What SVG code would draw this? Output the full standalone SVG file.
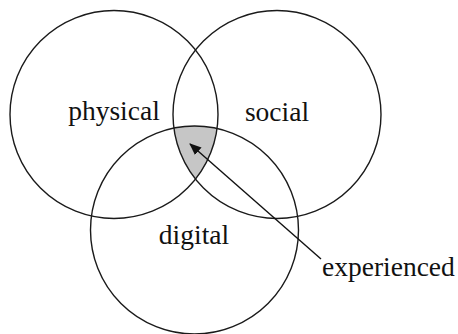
<svg xmlns="http://www.w3.org/2000/svg" width="458" height="334" viewBox="0 0 458 334">
<style>
.c{fill:none;stroke:#1a1a1a;stroke-width:1.4}
.t{font-family:"Liberation Serif","Times New Roman",serif;font-size:27.5px;fill:#111}
</style>
<defs>
<marker id="ah" viewBox="0 0 12 10" refX="11" refY="5" markerWidth="12" markerHeight="10" markerUnits="userSpaceOnUse" orient="auto">
<path d="M0,0 L12,5 L0,10 Z" fill="#111"/>
</marker>
</defs>
<rect width="458" height="334" fill="#fff"/>
<g id="experienced-region">
<path d="M173.9,128.1 A104,104 0 0 1 217.1,128.5 A104,104 0 0 1 195.5,179.1 A104,104 0 0 1 173.9,128.1 Z" fill="#c6c6c6"/>
</g>
<g id="physical">
<circle class="c" cx="114" cy="114.5" r="104"/>
<text class="t" x="114" y="120" text-anchor="middle">physical</text>
</g>
<g id="social">
<circle class="c" cx="277" cy="114.5" r="104"/>
<text class="t" x="277" y="121" text-anchor="middle">social</text>
</g>
<g id="digital">
<circle class="c" cx="194.5" cy="230" r="104"/>
<text class="t" x="194" y="244" text-anchor="middle">digital</text>
</g>
<g id="connectors">
<line x1="321" y1="259" x2="190" y2="144" stroke="#111" stroke-width="1.4" marker-end="url(#ah)"/>
</g>
<g id="experienced">
<text class="t" x="322" y="276">experienced</text>
</g>
</svg>
